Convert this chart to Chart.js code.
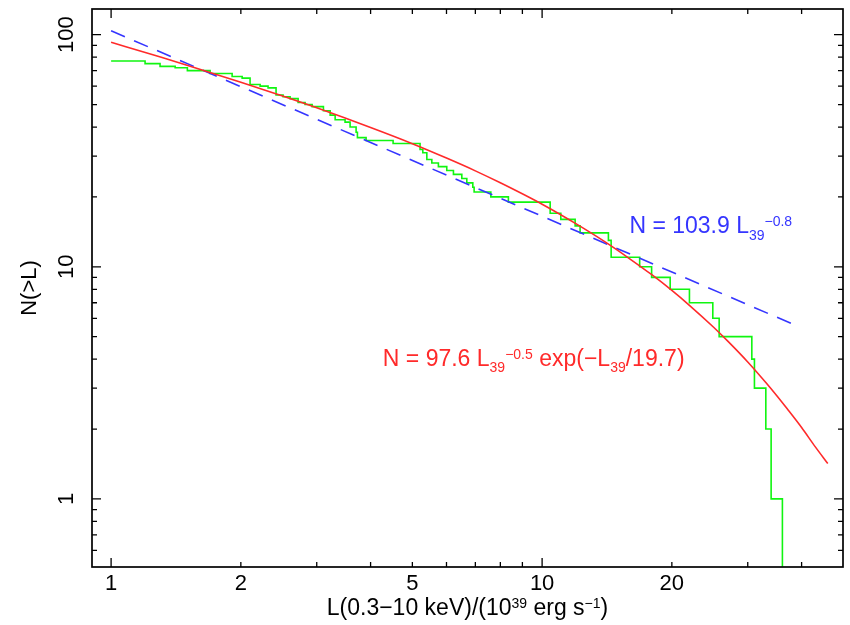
<!DOCTYPE html>
<html><head><meta charset="utf-8">
<script src="https://cdn.jsdelivr.net/npm/chart.js@4/dist/chart.umd.min.js"></script>
<style>html,body{margin:0;padding:0;background:#fff}#wrap{width:850px;height:625px}</style>
</head><body><div id="wrap"><canvas id="c" width="850" height="625"></canvas></div>
<script>
// ---- data ----
// cumulative luminosity function N(>L): step corners (L where the count drops, count after the drop)
const stepL = [1.0, 1.199, 1.299, 1.408, 1.503, 1.697, 1.909, 2.014, 2.101, 2.217, 2.313, 2.414, 2.506, 2.602, 2.716, 2.819, 2.927, 3.109, 3.223, 3.31, 3.49, 3.585, 3.702, 3.728, 3.905, 4.511, 5.21, 5.287, 5.402, 5.548, 5.746, 6.009, 6.227, 6.512, 6.688, 6.906, 6.954, 7.603, 8.352, 10.44, 11.05, 11.93, 12.25, 14.25, 14.46, 16.84, 17.95, 19.82, 21.97, 24.89, 25.75, 30.66, 31.09, 33.04, 33.99, 36.10];
const stepN = [77, 75, 73, 72, 70, 68, 66, 65, 61, 60, 59, 55, 54, 53, 51, 50, 49, 47, 45, 43, 42, 40, 38, 36, 35, 34, 32, 31, 29, 28, 27, 26, 25, 24, 23, 22, 21, 20, 19, 17, 16, 15, 14, 13, 11, 10, 9, 8, 7, 6, 5, 4, 3, 2, 1, 0.51];
// cut-off power-law fit (red curve)
const cutL = [1, 1.25, 1.5, 2, 2.5, 3, 4, 5, 6, 7, 8, 10, 12, 14, 16, 18, 20, 22, 25, 27, 30, 33, 35, 37, 40, 43, 46];
const cutN = [92.8, 81.9, 73.9, 62.4, 54.4, 48.4, 39.8, 33.9, 29.4, 25.9, 23.0, 18.6, 15.3, 12.8, 10.8, 9.22, 7.91, 6.81, 5.49, 4.77, 3.89, 3.18, 2.79, 2.45, 2.03, 1.68, 1.42];
// pure power-law fit (blue dashed line), straight on log-log axes
const powL = [1, 38.2];
const powN = [103.9, 5.66];
// axes
const xTicks = [1, 2, 3, 4, 5, 6, 7, 8, 9, 10, 20, 30, 40];
const xTickLabels = [1, 2, 5, 10, 20];
const yTicks = [0.6, 0.7, 0.8, 0.9, 1, 2, 3, 4, 5, 6, 7, 8, 9, 10, 20, 30, 40, 50, 60, 70, 80, 90, 100];
const yTickLabels = [1, 10, 100];
const majorTicks = [1, 10, 100];
const xTitleParts = [['L(0.3\u221210 keV)/(10', 0], ['39', 1], [' erg s', 0], ['\u22121', 1], [')', 0]];
const yTitle = 'N(>L)';
const blueLabel = [['N = 103.9 L', 0], ['39', -1], ['\u22120.8', 1]];
const redLabel = [['N = 97.6 L', 0], ['39', -1], ['\u22120.5', 1], [' exp(\u2212L', 0], ['39', -1], ['/19.7)', 0]];
const blueLabelAt = [15.94, 13.93];
const redLabelAt = [4.27, 3.74];

const FONT = '"Liberation Sans", Arial, Helvetica, sans-serif';
const GREEN = '#10f510', RED = '#ff2a2a', BLUE = '#3535ff';

function drawRich(ctx, x, y, parts, color, big, small, align) {
  let w = 0;
  for (const p of parts) { ctx.font = (p[1] === 0 ? big : small) + 'px ' + FONT; w += ctx.measureText(p[0]).width; }
  let cx = align === 'center' ? x - w / 2 : x;
  ctx.fillStyle = color; ctx.textAlign = 'left'; ctx.textBaseline = 'alphabetic';
  for (const p of parts) {
    const sz = p[1] === 0 ? big : small;
    ctx.font = sz + 'px ' + FONT;
    const dy = p[1] === 0 ? 0 : (p[1] > 0 ? -big * 0.3 : big * 0.27);
    ctx.fillText(p[0], cx, y + dy);
    cx += ctx.measureText(p[0]).width;
  }
}

const framePlugin = {
  id: 'frame',
  afterDatasetsDraw(chart) {
    const {ctx, chartArea: a, scales: {x, y}} = chart;
    ctx.save();
    ctx.strokeStyle = '#000'; ctx.lineWidth = 1.3;
    ctx.beginPath();
    for (const v of xTicks) {
      const px = x.getPixelForValue(v);
      const len = majorTicks.includes(v) ? 9 : 5;
      ctx.moveTo(px, a.bottom); ctx.lineTo(px, a.bottom - len);
      ctx.moveTo(px, a.top); ctx.lineTo(px, a.top + len);
    }
    for (const v of yTicks) {
      const py = y.getPixelForValue(v);
      const len = majorTicks.includes(v) ? 9 : 5;
      ctx.moveTo(a.left, py); ctx.lineTo(a.left + len, py);
      ctx.moveTo(a.right, py); ctx.lineTo(a.right - len, py);
    }
    ctx.stroke();
    ctx.lineWidth = 1.7;
    ctx.strokeRect(a.left, a.top, a.right - a.left, a.bottom - a.top);
    // annotations
    drawRich(ctx, x.getPixelForValue(blueLabelAt[0]), y.getPixelForValue(blueLabelAt[1]), blueLabel, BLUE, 23, 14, 'left');
    drawRich(ctx, x.getPixelForValue(redLabelAt[0]), y.getPixelForValue(redLabelAt[1]), redLabel, RED, 23, 14, 'left');
    // x axis title
    drawRich(ctx, (a.left + a.right) / 2, a.bottom + 48, xTitleParts, '#000', 23, 14, 'center');
    ctx.restore();
  }
};

new Chart(document.getElementById('c'), {
  type: 'line',
  data: {
    datasets: [
      { label: 'N = 97.6 L39^-0.5 exp(-L39/19.7)', data: cutL.map((v, i) => ({x: v, y: cutN[i]})),
        borderColor: RED, borderWidth: 1.6, pointRadius: 0, cubicInterpolationMode: 'monotone', order: 0 },
      { label: 'N = 103.9 L39^-0.8', data: powL.map((v, i) => ({x: v, y: powN[i]})),
        borderColor: BLUE, borderWidth: 1.6, borderDash: [15, 10], pointRadius: 0, order: 1 },
      { label: 'N(>L)', data: stepL.map((v, i) => ({x: v, y: stepN[i]})),
        borderColor: GREEN, borderWidth: 1.6, pointRadius: 0, stepped: 'before', order: 2 }
    ]
  },
  options: {
    responsive: false, animation: false, devicePixelRatio: 1,
    layout: { padding: { left: 0, right: 7, top: 9, bottom: 0 } },
    plugins: { legend: { display: false }, tooltip: { enabled: false } },
    scales: {
      x: {
        type: 'logarithmic', position: 'bottom', min: 0.903, max: 49.9,
        grid: { display: false, drawTicks: false }, border: { display: false },
        afterBuildTicks: s => { s.ticks = xTicks.map(v => ({value: v})); },
        afterFit: s => { s.height = 58; s.paddingLeft = 0; s.paddingRight = 0; },
        ticks: { autoSkip: false, maxRotation: 0, padding: 4, color: '#000',
          font: { family: FONT, size: 22 },
          callback: v => xTickLabels.includes(v) ? String(v) : '' }
      },
      y: {
        type: 'logarithmic', position: 'left', min: 0.509, max: 129,
        grid: { display: false, drawTicks: false }, border: { display: false },
        afterBuildTicks: s => { s.ticks = yTicks.map(v => ({value: v})); },
        afterFit: s => { s.width = 92; s.paddingTop = 0; s.paddingBottom = 0; },
        ticks: { autoSkip: false, minRotation: 90, maxRotation: 90, crossAlign: 'center', padding: 7, color: '#000',
          font: { family: FONT, size: 22 },
          callback: v => yTickLabels.includes(v) ? String(v) : '' },
        title: { display: true, text: yTitle, color: '#000', font: { family: FONT, size: 22 }, padding: { top: 17, bottom: 0 } }
      }
    }
  },
  plugins: [framePlugin]
});
</script>
</body></html>
